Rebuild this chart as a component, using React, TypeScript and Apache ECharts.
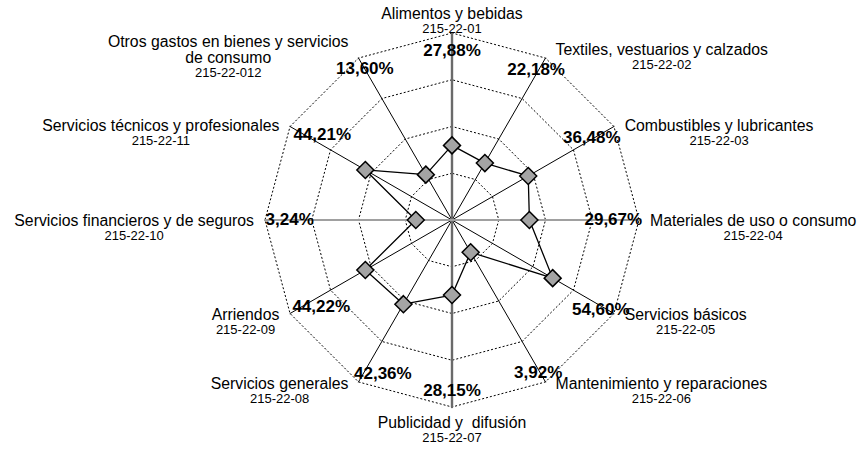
import { useEffect, useRef } from 'react';
import * as echarts from 'echarts';

const categories = [
  'Alimentos y bebidas',
  'Textiles, vestuarios y calzados',
  'Combustibles y lubricantes',
  'Materiales de uso o consumo',
  'Servicios básicos',
  'Mantenimiento y reparaciones',
  'Publicidad y  difusión',
  'Servicios generales',
  'Arriendos',
  'Servicios financieros y de seguros',
  'Servicios técnicos y profesionales',
  'Otros gastos en bienes y servicios\nde consumo',
];

const codes = [
  '215-22-01',
  '215-22-02',
  '215-22-03',
  '215-22-04',
  '215-22-05',
  '215-22-06',
  '215-22-07',
  '215-22-08',
  '215-22-09',
  '215-22-10',
  '215-22-11',
  '215-22-012',
];

const percentages = [27.88, 22.18, 36.48, 29.67, 54.6, 3.92, 28.15, 42.36, 44.22, 3.24, 44.21, 13.6];

const axisMin = -20;
const axisMax = 100;
const splitCount = 4;
const labelRingValue = 88;

const FONT = '"Liberation Sans", Arial, Helvetica, sans-serif';

// per-category label nudges (dx, dy) in px
const labelShift: [number, number][] = [
  [0, -1],
  [0, -5],
  [-6, 2],
  [-7, -1],
  [3, 5],
  [2, 7],
  [0, 2],
  [15, 8],
  [15, 2],
  [6, -1],
  [16, -1],
  [-3, -6],
];

function pad([dx, dy]: [number, number]) {
  return [dy > 0 ? 2 * dy : 0, dx < 0 ? -2 * dx : 0, dy < 0 ? -2 * dy : 0, dx > 0 ? 2 * dx : 0];
}

const fmtPct = (v: number) => v.toFixed(2).replace('.', ',') + '%';

export default function App() {
  const ref = useRef<HTMLDivElement>(null);

  useEffect(() => {
    if (!ref.current) return;
    const chart = echarts.init(ref.current, undefined, { renderer: 'svg' });
    const n = categories.length;
    // ECharts lays indicators counter-clockwise; reorder so they run clockwise
    const order = categories.map((_, k) => (k === 0 ? 0 : n - k));

    const indicator = order.map((i) => ({ name: categories[i], min: axisMin, max: axisMax }));
    const mainValues = order.map((i) => percentages[i]);
    const labelValues = order.map(() => labelRingValue);
    const verticalAxis = order.map((i) => (i === 0 || i === 6 ? axisMax : axisMin));
    const horizontalAxis = order.map((i) => (i === 3 || i === 9 ? axisMax : axisMin));

    const spacerIdx = [2, 3, 4, 5, 7, 8, 9, 10];

    const pctRich: Record<string, any> = {};
    percentages.forEach((_, i) => {
      pctRich['p' + i] = {
        fontSize: 17,
        fontWeight: 'bold',
        fontFamily: FONT,
        color: '#000',
        padding: pad(labelShift[i]),
      };
    });

    let counter = 0;

    chart.setOption({
      animation: false,
      backgroundColor: '#fff',
      textStyle: { fontFamily: FONT },
      radar: {
        center: [452, 220],
        radius: 187,
        startAngle: 90,
        shape: 'polygon',
        splitNumber: splitCount,
        indicator,
        axisNameGap: 2,
        axisName: {
          color: '#000',
          padding: [0, 9, 0, 9],
          formatter: (name: string) => {
            const i = categories.indexOf(name);
            if (i === 0) return `{nt|${name}}\n{ct|${codes[i]}}`;
            if (i === 6) return `{s| }\n{n|${name}}\n{c|${codes[i]}}`;
            if (spacerIdx.includes(i)) return `{e| }\n{n|${name}}\n{c|${codes[i]}}`;
            return `{n|${name}}\n{c|${codes[i]}}`;
          },
          rich: {
            n: { fontSize: 15.8, fontFamily: FONT, color: '#000', lineHeight: 16, align: 'center' },
            c: { fontSize: 13, fontFamily: FONT, color: '#000', lineHeight: 14, align: 'center' },
            nt: { fontSize: 15.8, fontFamily: FONT, color: '#000', lineHeight: 24, align: 'center' },
            ct: { fontSize: 13, fontFamily: FONT, color: '#000', lineHeight: 6, align: 'center' },
            e: { fontSize: 1, lineHeight: 14 },
            s: { fontSize: 1, lineHeight: 5 },
          },
        },
        axisLine: { lineStyle: { color: '#000', width: 1 } },
        axisTick: { show: false },
        axisLabel: { show: false },
        splitLine: { lineStyle: { color: '#000', width: 1, type: [2, 2] } },
        splitArea: { show: false },
      },
      series: [
        {
          type: 'radar',
          silent: true,
          symbol: 'none',
          z: 1,
          data: [
            { value: verticalAxis, lineStyle: { color: '#6a6a6a', width: 2.4 } },
            { value: horizontalAxis, lineStyle: { color: '#a0a0a0', width: 2.2 } },
          ],
        },
        {
          type: 'radar',
          silent: true,
          z: 3,
          symbol: 'diamond',
          symbolSize: 17,
          lineStyle: { color: '#000', width: 1.3 },
          itemStyle: { color: '#a4a4a4', borderColor: '#000', borderWidth: 1.5 },
          data: [{ value: mainValues, name: 'Porcentaje' }],
        },
        {
          type: 'radar',
          silent: true,
          z: 4,
          symbol: 'circle',
          symbolSize: 1,
          itemStyle: { color: 'rgba(0,0,0,0)', borderWidth: 0 },
          lineStyle: { width: 0, opacity: 0 },
          label: {
            show: true,
            position: 'inside',
            color: '#000',
            formatter: (p: any) => {
              const k = typeof p.dimensionIndex === 'number' ? p.dimensionIndex : counter++ % n;
              const i = order[k];
              return `{p${i}|${fmtPct(percentages[i])}}`;
            },
            rich: pctRich,
          },
          data: [{ value: labelValues, name: 'Etiquetas' }],
        },
      ],
    });

    return () => chart.dispose();
  }, []);

  return (
    <div
      ref={ref}
      style={{ position: 'absolute', left: 0, top: 0, width: 862, height: 449, background: '#fff' }}
    />
  );
}
